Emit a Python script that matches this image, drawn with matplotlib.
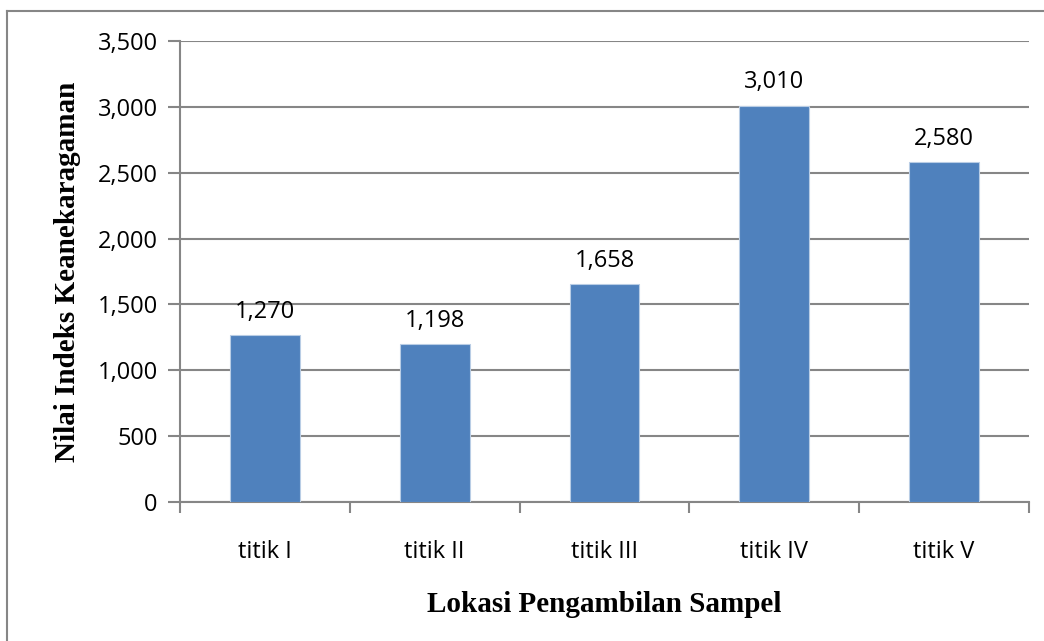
import matplotlib
matplotlib.use("Agg")
import matplotlib.pyplot as plt
from matplotlib.ticker import FuncFormatter
from matplotlib.lines import Line2D

categories = ["titik I", "titik II", "titik III", "titik IV", "titik V"]
values = [1270, 1198, 1658, 3010, 2580]
yticks = [0, 500, 1000, 1500, 2000, 2500, 3000, 3500]

fig = plt.figure(figsize=(10.44, 6.41), dpi=100)
ax = fig.add_axes([180/1044, 1-502/641, (1029-180)/1044, (502-41)/641])

grid_c = "#868686"
x = list(range(len(categories)))
ax.bar(x, values, width=0.41, color="#4F81BD", edgecolor="#B9CDE5", linewidth=0.8, zorder=3)

ax.set_xlim(-0.5, len(categories)-0.5)
ax.set_ylim(0, 3500)
ax.set_yticks(yticks)
ax.yaxis.set_major_formatter(FuncFormatter(lambda v, p: f"{int(v):,}"))
ax.yaxis.grid(True, color=grid_c, linewidth=1.5, zorder=0)
ax.set_axisbelow(True)

for s in ["top", "right"]:
    ax.spines[s].set_visible(False)
for s in ["left", "bottom"]:
    ax.spines[s].set_color(grid_c)
    ax.spines[s].set_linewidth(1.5)

ax.set_xticks(x)
ax.set_xticklabels(categories)
ax.tick_params(axis="x", length=0, pad=27, labelsize=17)
ax.set_xticks([i - 0.5 for i in range(len(categories)+1)], minor=True)
ax.tick_params(axis="x", which="minor", length=8, width=1.5, color=grid_c, direction="out")
ax.tick_params(axis="y", length=9, width=1.5, color=grid_c, pad=7, labelsize=17)
for lbl in ax.get_xticklabels() + ax.get_yticklabels():
    lbl.set_fontfamily("Open Sans")

for xi, v in zip(x, values):
    ax.annotate(f"{v:,}", (xi, v), xytext=(0, 8), textcoords="offset points",
                ha="center", va="bottom", fontsize=17, family="Open Sans")

ax.set_ylabel("Nilai Indeks Keanekaragaman", family="Liberation Serif", fontweight="bold",
              fontsize=21, labelpad=12)
ax.set_xlabel("Lokasi Pengambilan Sampel", family="Liberation Serif", fontweight="bold",
              fontsize=21, labelpad=20)

# figure border (only left and top visible within the image)
fig.add_artist(Line2D([7/1044, 7/1044], [0, 1-11/641], transform=fig.transFigure,
                      color=grid_c, linewidth=1.5))
fig.add_artist(Line2D([7/1044, 1], [1-11/641, 1-11/641], transform=fig.transFigure,
                      color=grid_c, linewidth=1.5))

fig.savefig("out.png", dpi=100)
